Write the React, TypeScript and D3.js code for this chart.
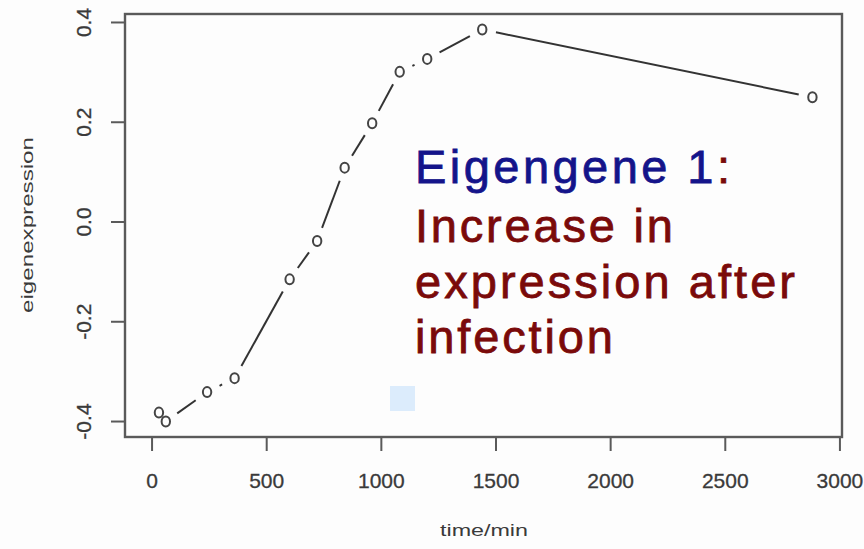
import React from "react";
import * as d3 from "d3";

// Sampling times (minutes after infection) and module eigengene values
const timeMin = [30, 60, 240, 360, 600, 720, 840, 960, 1080, 1200, 1440, 2880];
const eigenValue = [-0.382, -0.4, -0.341, -0.313, -0.115, -0.038, 0.109, 0.198, 0.301, 0.327, 0.386, 0.25];

const xTicks = [0, 500, 1000, 1500, 2000, 2500, 3000];
const yTicks = [-0.4, -0.2, 0.0, 0.2, 0.4];

const titleLines = [
  { text: "Increase in", width: 258 },
  { text: "expression after", width: 380 },
  { text: "infection", width: 198 },
];

const W = 864;
const H = 549;
const box = { left: 125, right: 842, top: 14, bottom: 437 };

export default function App() {
  const x = d3.scaleLinear().domain([-118, 3009]).range([box.left, box.right]);
  const y = d3.scaleLinear().domain([-0.431, 0.417]).range([box.bottom, box.top]);

  const pts = timeMin.map((t, i) => [x(t), y(eigenValue[i])] as [number, number]);

  // type="b": segments between points, trimmed so they stop short of each symbol
  const gap = 14;
  const segs: string[] = [];
  for (let i = 0; i < pts.length - 1; i++) {
    const [x0, y0] = pts[i];
    const [x1, y1] = pts[i + 1];
    const dx = x1 - x0;
    const dy = y1 - y0;
    const len = Math.hypot(dx, dy);
    if (len <= 2 * gap) continue;
    const ux = dx / len;
    const uy = dy / len;
    const line = d3.line();
    segs.push(
      line([
        [x0 + ux * gap, y0 + uy * gap],
        [x1 - ux * gap, y1 - uy * gap],
      ]) as string
    );
  }

  const axisColor = "#5a5a5a";
  const labelColor = "#3a3a3a";
  const font = "'Liberation Sans', Arial, sans-serif";

  return (
    <svg
      width={W}
      height={H}
      style={{ position: "absolute", left: 0, top: 0, background: "#fdfdfd" }}
      fontFamily={font}
    >
      <rect x={0} y={0} width={W} height={H} fill="#fdfdfd" />

      {/* plot frame */}
      <rect
        x={box.left}
        y={box.top}
        width={box.right - box.left}
        height={box.bottom - box.top}
        fill="none"
        stroke={axisColor}
        strokeWidth={2.4}
      />

      {/* x axis ticks and labels */}
      {xTicks.map((t) => (
        <g key={"x" + t}>
          <line x1={x(t)} x2={x(t)} y1={box.bottom} y2={box.bottom + 14} stroke={axisColor} strokeWidth={2} />
          <text
            x={x(t)}
            y={488}
            textAnchor="middle"
            fontSize={21}
            fill={labelColor}
            stroke={labelColor}
            strokeWidth={0.3}
          >
            {t}
          </text>
        </g>
      ))}

      {/* y axis ticks and labels */}
      {yTicks.map((v) => (
        <g key={"y" + v}>
          <line x1={box.left - 14} x2={box.left} y1={y(v)} y2={y(v)} stroke={axisColor} strokeWidth={2} />
          <text
            transform={`translate(91,${y(v)}) rotate(-90)`}
            textAnchor="middle"
            fontSize={21}
            fill={labelColor}
            stroke={labelColor}
            strokeWidth={0.3}
          >
            {v.toFixed(1)}
          </text>
        </g>
      ))}

      {/* axis titles */}
      <text
        transform="translate(33,225) rotate(-90)"
        textAnchor="middle"
        fontSize={16}
        fill={labelColor}
        textLength={176}
        lengthAdjust="spacingAndGlyphs"
      >
        eigenexpression
      </text>
      <text
        x={484}
        y={536}
        textAnchor="middle"
        fontSize={16}
        fill={labelColor}
        textLength={88}
        lengthAdjust="spacingAndGlyphs"
      >
        time/min
      </text>

      {/* eigengene trajectory */}
      {segs.map((d, i) => (
        <path key={"s" + i} d={d} stroke="#333" strokeWidth={2} fill="none" />
      ))}
      {pts.map(([px, py], i) => (
        <ellipse key={"p" + i} cx={px} cy={py} rx={4.2} ry={5} fill="none" stroke="#444" strokeWidth={2} />
      ))}

      {/* annotation */}
      <text x={415} y={183} fontSize={47} textLength={315} lengthAdjust="spacing" strokeWidth={0.8}>
        <tspan fill="#14148a" stroke="#14148a">Eigengene 1</tspan>
        <tspan fill="#7a0a0a" stroke="#7a0a0a">:</tspan>
      </text>
      {titleLines.map((l, i) => (
        <text
          key={l.text}
          x={415}
          y={242 + i * 55.5}
          fontSize={47}
          fill="#7a0a0a"
          stroke="#7a0a0a"
          strokeWidth={0.8}
          textLength={l.width}
          lengthAdjust="spacing"
        >
          {l.text}
        </text>
      ))}

      {/* small highlight square */}
      <rect x={390} y={386} width={25} height={25} fill="#dcecfc" />
    </svg>
  );
}
